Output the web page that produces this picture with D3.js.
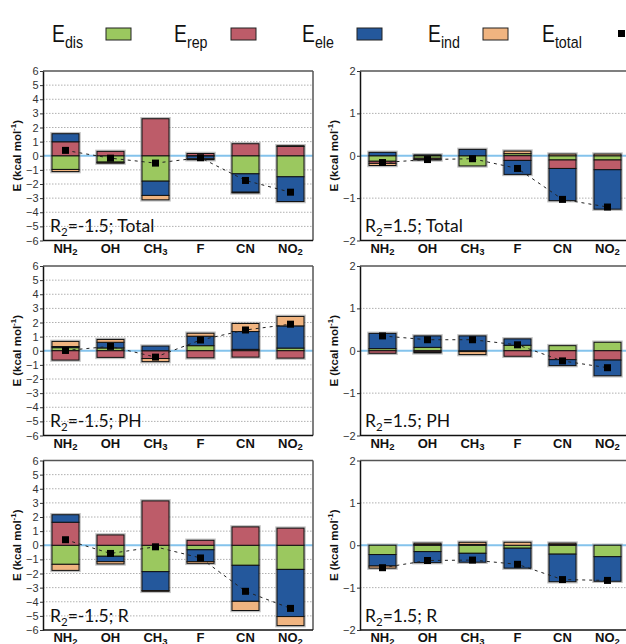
<!DOCTYPE html>
<html>
<head>
<meta charset="utf-8">
<script src="https://cdn.jsdelivr.net/npm/d3@7"></script>
<style>
  body { margin: 0; background: #fff; }
  svg { display: block; }
</style>
</head>
<body>
<svg id="chart" width="626" height="644"></svg>
<script>
const categories = ["NH2", "OH", "CH3", "F", "CN", "NO2"];
const seriesKeys = ["dis", "rep", "ele", "ind"];

// R2 = -1.5 ; Total
const negTotalDis = [-0.97, -0.45, -1.80, -0.02, -1.28, -1.49];
const negTotalRep = [0.99, 0.31, 2.62, 0.16, 0.85, 0.66];
const negTotalEle = [0.57, -0.05, -1.01, -0.20, -1.30, -1.75];
const negTotalInd = [-0.15, -0.02, -0.31, -0.06, -0.05, 0.05];
const negTotalSum = [0.38, -0.17, -0.52, -0.14, -1.75, -2.58];

// R2 = 1.5 ; Total
const posTotalDis = [-0.13, -0.06, -0.24, 0.05, -0.10, -0.10];
const posTotalRep = [-0.05, -0.03, 0, -0.11, -0.20, -0.23];
const posTotalEle = [0.08, 0.02, 0.15, -0.33, -0.76, -0.93];
const posTotalInd = [-0.05, -0.01, 0, 0.06, 0.04, 0.04];
const posTotalSum = [-0.16, -0.09, -0.07, -0.30, -1.03, -1.21];

// R2 = -1.5 ; PH
const negPhDis = [0.22, 0.20, 0, 0.36, 0.10, 0.19];
const negPhRep = [-0.66, -0.47, -0.55, -0.50, -0.45, -0.52];
const negPhEle = [0.08, 0.40, 0.33, 0.67, 1.26, 1.57];
const negPhInd = [0.36, 0.20, -0.22, 0.21, 0.57, 0.67];
const negPhSum = [0.02, 0.31, -0.45, 0.76, 1.47, 1.88];

// R2 = 1.5 ; PH
const posPhDis = [0.05, 0.08, 0, 0.13, 0.12, 0.20];
const posPhRep = [-0.06, -0.03, -0.02, -0.13, -0.21, -0.22];
const posPhEle = [0.36, 0.27, 0.35, 0.15, -0.14, -0.37];
const posPhInd = [0, -0.02, -0.07, 0, 0, 0];
const posPhSum = [0.35, 0.26, 0.26, 0.14, -0.24, -0.40];

// R2 = -1.5 ; R
const negRDis = [-1.35, -0.78, -1.87, -0.32, -1.42, -1.71];
const negRRep = [1.63, 0.73, 3.14, 0.35, 1.30, 1.21];
const negREle = [0.53, -0.38, -1.34, -0.84, -2.55, -3.34];
const negRInd = [-0.43, -0.16, -0.05, -0.12, -0.65, -0.64];
const negRSum = [0.39, -0.58, -0.11, -0.90, -3.26, -4.47];

// R2 = 1.5 ; R
const posRDis = [-0.22, -0.15, -0.19, -0.07, -0.21, -0.27];
const posRRep = [0, 0.02, 0.02, 0, 0.02, 0];
const posREle = [-0.27, -0.26, -0.21, -0.47, -0.65, -0.58];
const posRInd = [-0.05, 0.03, 0.05, 0.07, 0.03, 0];
const posRSum = [-0.53, -0.36, -0.35, -0.45, -0.81, -0.83];

const colors = { dis: "#9bc85f", rep: "#bd5c69", ele: "#24589c", ind: "#f0b480" };

const svg = d3.select("#chart");

const panels = [
    { r2: "-1.5", name: "Total", col: 0, row: 0, lim: 6, s: [negTotalDis, negTotalRep, negTotalEle, negTotalInd], total: negTotalSum },
    { r2: "1.5", name: "Total", col: 1, row: 0, lim: 2, s: [posTotalDis, posTotalRep, posTotalEle, posTotalInd], total: posTotalSum },
    { r2: "-1.5", name: "PH", col: 0, row: 1, lim: 6, s: [negPhDis, negPhRep, negPhEle, negPhInd], total: negPhSum },
    { r2: "1.5", name: "PH", col: 1, row: 1, lim: 2, s: [posPhDis, posPhRep, posPhEle, posPhInd], total: posPhSum },
    { r2: "-1.5", name: "R", col: 0, row: 2, lim: 6, s: [negRDis, negRRep, negREle, negRInd], total: negRSum },
    { r2: "1.5", name: "R", col: 1, row: 2, lim: 2, s: [posRDis, posRRep, posREle, posRInd], total: posRSum }
];

const colX = [43, 360];
const rowTop = [71, 266, 460.5];
const plotW = 270, plotH = 169.5;

// subscript digits in labels
function addSub(sel, label, subSize, dy) {
    const m = label.match(/^([A-Z]+)(\d?)$/);
    sel.append("tspan").text(m[1]);
    if (m[2]) sel.append("tspan").attr("font-size", subSize).attr("dy", dy).text(m[2]);
}

panels.forEach(function(p) {
    const x0 = colX[p.col], y0 = rowTop[p.row];
    const g = svg.append("g").attr("transform", `translate(${x0},${y0})`);

    const x = d3.scaleBand().domain(categories).range([0, plotW]).paddingInner(0.4).paddingOuter(0.2);
    const y = d3.scaleLinear().domain([-p.lim, p.lim]).range([plotH, 0]);

    const table = categories.map(function(c, i) {
        const row = { cat: c, total: p.total[i] };
        seriesKeys.forEach((k, j) => row[k] = p.s[j][i]);
        return row;
    });

    const stacked = d3.stack().keys(seriesKeys).offset(d3.stackOffsetDiverging)(table);

    // grid
    const ticks = d3.range(-p.lim, p.lim + 1);
    g.selectAll("line.grid")
        .data(ticks.filter(t => t !== 0 && Math.abs(t) !== p.lim))
        .enter().append("line")
        .attr("x1", 0).attr("x2", plotW)
        .attr("y1", d => y(d)).attr("y2", d => y(d))
        .attr("stroke", "#b0b0b0")
        .attr("stroke-dasharray", "1.5,1.5");

    // zero line
    g.append("line")
        .attr("x1", 0).attr("x2", plotW)
        .attr("y1", y(0)).attr("y2", y(0))
        .attr("stroke", "#84c3ec")
        .attr("stroke-width", 2);

    // bar shadows
    g.selectAll("rect.shadow")
        .data(table)
        .enter().append("rect")
        .attr("x", d => x(d.cat))
        .attr("width", x.bandwidth())
        .attr("y", function(d) {
            const pos = d3.sum(seriesKeys, k => Math.max(0, d[k]));
            return y(pos);
        })
        .attr("height", function(d) {
            const pos = d3.sum(seriesKeys, k => Math.max(0, d[k]));
            const neg = d3.sum(seriesKeys, k => Math.min(0, d[k]));
            return y(neg) - y(pos);
        })
        .attr("fill", "none")
        .attr("stroke", "#8a8a8a")
        .attr("stroke-opacity", 0.55)
        .attr("stroke-width", 3.5);

    stacked.forEach(function(layer) {
        g.selectAll(null)
            .data(layer.filter(d => d[1] !== d[0]))
            .enter().append("rect")
            .attr("x", d => x(d.data.cat))
            .attr("width", x.bandwidth())
            .attr("y", d => y(Math.max(d[0], d[1])))
            .attr("height", d => Math.abs(y(d[0]) - y(d[1])))
            .attr("fill", colors[layer.key])
            .attr("stroke", "#111")
            .attr("stroke-width", 1);
    });

    // total line + markers
    const line = d3.line()
        .x(d => x(d.cat) + x.bandwidth() / 2)
        .y(d => y(d.total));
    g.append("path")
        .datum(table)
        .attr("d", line)
        .attr("fill", "none")
        .attr("stroke", "#222")
        .attr("stroke-width", 1)
        .attr("stroke-dasharray", "3,4");

    g.selectAll("rect.tot")
        .data(table)
        .enter().append("rect")
        .attr("x", d => x(d.cat) + x.bandwidth() / 2 - 3.5)
        .attr("y", d => y(d.total) - 3.5)
        .attr("width", 7).attr("height", 7)
        .attr("fill", "#000");

    // frame: top and right grey, left and bottom black
    g.append("line").attr("x1", 0).attr("x2", plotW).attr("y1", 0).attr("y2", 0)
        .attr("stroke", "#555").attr("stroke-width", 1.5);
    g.append("line").attr("x1", plotW).attr("x2", plotW).attr("y1", 0).attr("y2", plotH)
        .attr("stroke", "#555").attr("stroke-width", 1.5);
    g.append("line").attr("x1", 0).attr("x2", plotW).attr("y1", plotH).attr("y2", plotH)
        .attr("stroke", "#111").attr("stroke-width", 1.5);

    const yAxis = g.append("g")
        .call(d3.axisLeft(y).tickValues(ticks).tickSize(3).tickSizeOuter(0).tickFormat(d3.format("d")));
    yAxis.select(".domain").attr("stroke", "#111").attr("stroke-width", 1.5);
    yAxis.selectAll(".tick line").attr("stroke", "#333");
    yAxis.selectAll(".tick text")
        .attr("font-family", "Liberation Sans, Arial, sans-serif")
        .attr("font-size", 11)
        .attr("fill", "#333")
        .attr("x", -4.5);

    // y title
    const yt = g.append("text")
        .attr("transform", `translate(${-22},${plotH / 2}) rotate(-90)`)
        .attr("text-anchor", "middle")
        .attr("font-family", "Liberation Sans, Arial, sans-serif")
        .attr("font-weight", "bold")
        .attr("font-size", 11.5)
        .attr("fill", "#111");
    yt.append("tspan").text("E (kcal mol");
    yt.append("tspan").attr("font-size", 8).attr("dy", -5).text("-1");
    yt.append("tspan").attr("dy", 5).text(")");

    // category labels
    categories.forEach(function(c) {
        const t = g.append("text")
            .attr("x", x(c) + x.bandwidth() / 2)
            .attr("y", plotH + 12)
            .attr("text-anchor", "middle")
            .attr("font-family", "Liberation Sans, Arial, sans-serif")
            .attr("font-weight", "bold")
            .attr("font-size", 13)
            .attr("fill", "#111");
        addSub(t, c, 9.5, 2.5);
    });

    // panel annotation
    const a = g.append("text")
        .attr("x", p.col === 0 ? 7 : 5)
        .attr("y", plotH - 8.5)
        .attr("font-family", "Lato, Open Sans, sans-serif")
        .attr("font-size", 17.5)
        .attr("fill", "#111");
    a.append("tspan").text("R");
    a.append("tspan").attr("font-size", 11.5).attr("dy", 4).text("2");
    a.append("tspan").attr("dy", -4).text("=" + p.r2 + "; " + p.name);
});

// legend
const legendItems = [
    { main: "E", sub: "dis", key: "dis" },
    { main: "E", sub: "rep", key: "rep" },
    { main: "E", sub: "ele", key: "ele" },
    { main: "E", sub: "ind", key: "ind" },
    { main: "E", sub: "total", key: "total" }
];
const legendTextX = [52, 174, 302, 428, 542];
const legendSwatchX = [106, 231, 357, 483, 618];

legendItems.forEach(function(d, i) {
    const t = svg.append("g")
        .attr("transform", `translate(${legendTextX[i]},42) scale(0.84,1)`)
        .append("text")
        .attr("font-family", "Liberation Sans, Arial, sans-serif")
        .attr("font-size", 23)
        .attr("fill", "#111");
    t.append("tspan").text(d.main);
    t.append("tspan").attr("font-size", 17).attr("dy", 6).text(d.sub);

    if (d.key === "total") {
        svg.append("rect")
            .attr("x", legendSwatchX[i]).attr("y", 30)
            .attr("width", 7).attr("height", 7)
            .attr("fill", "#000");
    } else {
        svg.append("rect")
            .attr("x", legendSwatchX[i]).attr("y", 28)
            .attr("width", 25).attr("height", 12)
            .attr("fill", colors[d.key])
            .attr("stroke", "#222")
            .attr("stroke-width", 1);
    }
});
</script>
</body>
</html>
